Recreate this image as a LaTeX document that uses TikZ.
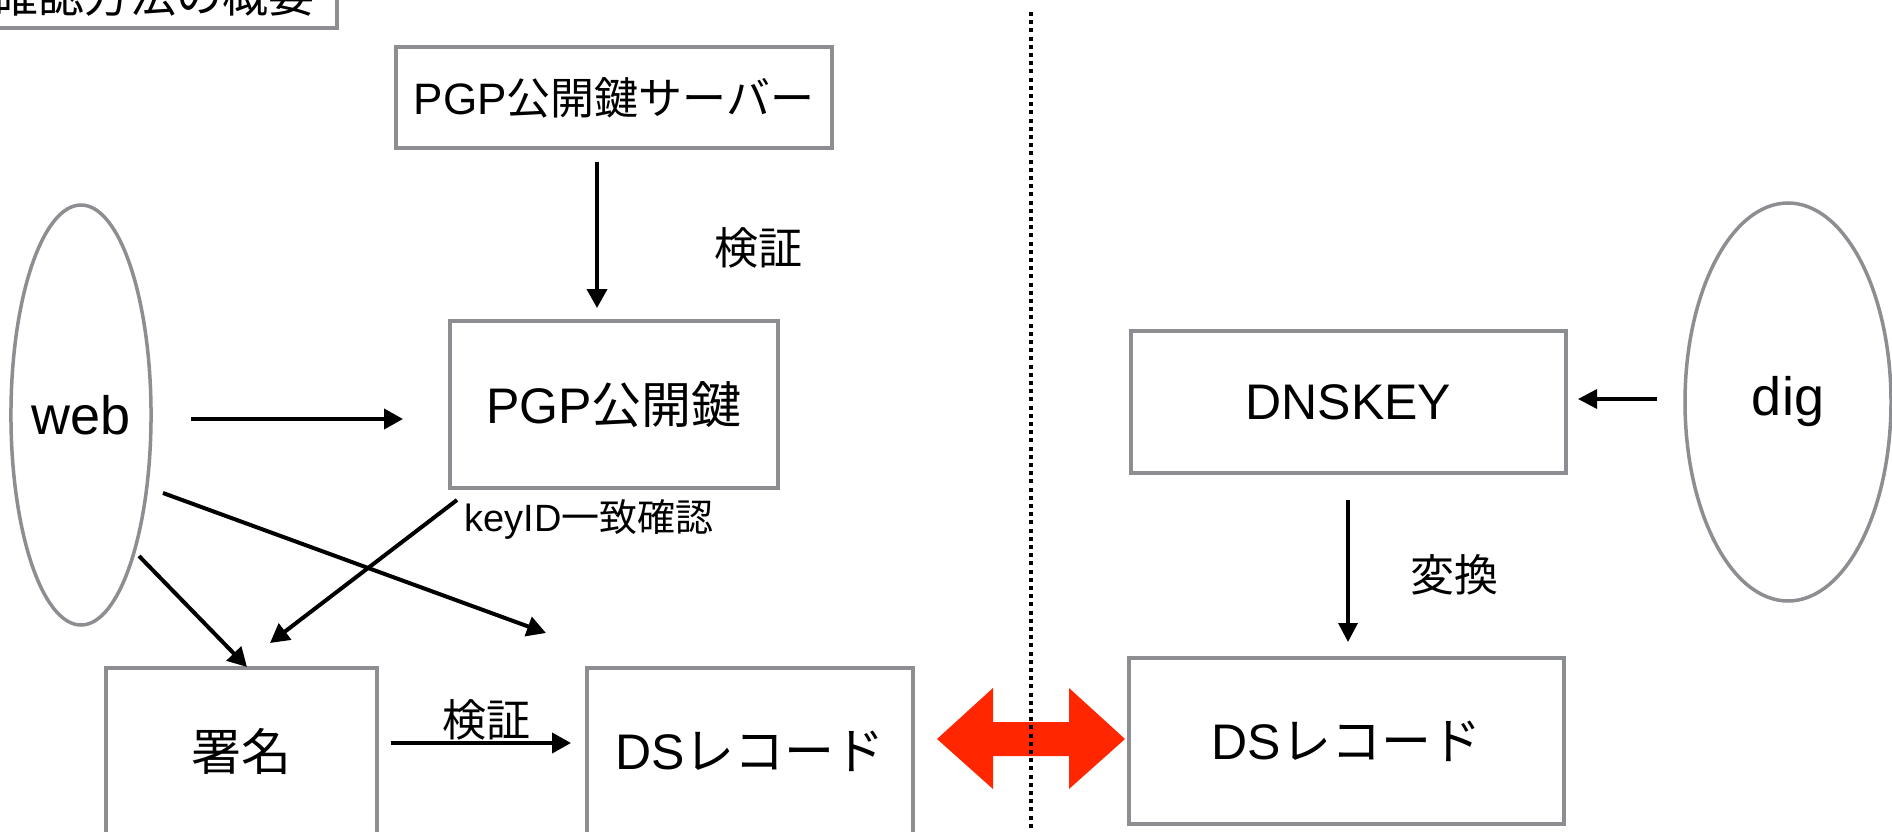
\documentclass[tikz,border=0pt]{standalone}
\usepackage{fontspec}
\setmainfont{Liberation Sans}
\newfontfamily\cjk{Noto Sans CJK JP}
\usetikzlibrary{arrows.meta,calc,shapes.geometric}
\definecolor{boxgray}{RGB}{141,142,146}
\definecolor{kred}{RGB}{255,38,0}
\begin{document}
\begin{tikzpicture}[x=1pt,y=-1pt,
  box/.style={draw=boxgray,line width=4pt,rectangle,inner sep=0pt,anchor=center},
  oval/.style={draw=boxgray,line width=3.5pt,ellipse,inner sep=0pt,font=\fontsize{54}{64}\selectfont},
  big/.style={font=\fontsize{50}{60}\selectfont},
  lbl/.style={font=\fontsize{44}{52}\selectfont\cjk,inner sep=0pt},
  arr/.style={line width=4pt,-{Triangle[length=19pt,width=20pt]}},
  thinarr/.style={line width=3.5pt,-{Triangle[length=19pt,width=19pt]}}]
\fill[white] (0,0) rectangle (1892,832);
\useasboundingbox (0,0) rectangle (1892,832);
\clip (0,0) rectangle (1892,832);

% nodes
\node[box, minimum width=366pt, minimum height=66pt, font=\fontsize{46}{55}\selectfont\cjk] (title) at (154,-5) {確認方法の概要};
\node[box, minimum width=436pt, minimum height=101pt, font=\fontsize{44}{53}\selectfont] (srv) at (614,97.5) {PGP{\cjk 公開鍵サーバー}};
\node[box, big, minimum width=328pt, minimum height=167pt] (pgp) at (614,404.5) {PGP{\cjk 公開鍵}};
\node[oval, minimum width=134pt, minimum height=420pt] (web) at (81,415) {web};
\node[box, big, minimum width=271pt, minimum height=166pt] (sig) at (241.5,751) {\cjk 署名};
\node[box, big, minimum width=326pt, minimum height=166pt] (dsl) at (750,751) {DS{\cjk レコード}};
\node[box, big, minimum width=435pt, minimum height=142pt] (dnskey) at (1348.5,402) {DNSKEY};
\node[box, big, minimum width=435pt, minimum height=166pt] (dsr) at (1346.5,741) {DS{\cjk レコード}};
\node[oval, minimum width=206pt, minimum height=398pt] (dig) at (1788,402) {dig};

% connectors
\draw[arr] ($(srv)+(-17,64.5)$) -- ($(pgp)+(-17,-96.5)$);
\draw[arr] ($(web)+(110,4)$) -- ($(pgp)+(-211,14.5)$);
\draw[arr] ($(web)+(82,78)$) -- ($(dsl)+(-204,-118)$);
\draw[arr] ($(web)+(58,141)$) -- ($(sig)+(5.5,-84)$);
\draw[arr] ($(pgp)+(-157,95.5)$) -- ($(sig)+(28.5,-108)$);
\draw[arr] ($(sig)+(149.5,-8)$) -- ($(dsl)+(-179,-8)$);
\draw[thinarr] ($(dig)+(-131,-3)$) -- ($(dnskey)+(229.5,-3)$);
\draw[thinarr] ($(dnskey)+(-0.5,98)$) -- ($(dsr)+(1.5,-99)$);

% labels
\node[lbl] (l1) at (758,248) {検証};
\node[lbl, font=\fontsize{38}{46}\selectfont] (l2) at (589,519) {keyID{\cjk 一致確認}};
\node[lbl] (l3) at (486,720) {検証};
\node[lbl] (l4) at (1454,575) {変換};

% red double arrow between the two DS records
\fill[kred] (937,739) -- (993,688) -- (993,722) -- (1069,722) -- (1069,688) -- (1125,739)
  -- (1069,789) -- (1069,756) -- (993,756) -- (993,789) -- cycle;

% dotted separator
\draw[line width=4pt, dash pattern=on 4pt off 4.2pt] (1031,12) -- (1031,840);
\end{tikzpicture}
\end{document}
